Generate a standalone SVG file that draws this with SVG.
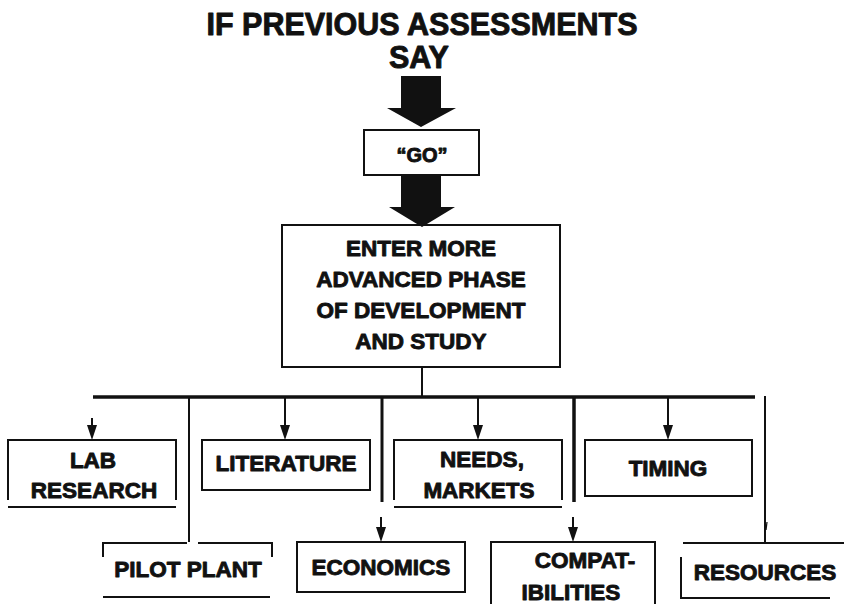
<svg xmlns="http://www.w3.org/2000/svg" width="844" height="604" viewBox="0 0 844 604">
<style>
text{font-family:"Liberation Sans",Arial,sans-serif;font-weight:bold;fill:#111;stroke:#111;stroke-width:0.9;stroke-linejoin:round;text-anchor:middle}
.t{font-size:30.5px}
.m{font-size:22.5px}
.s{font-size:22.5px}
.g{font-size:20px}
.b{fill:none;stroke:#111;stroke-width:2}
.c{fill:none;stroke:#111;stroke-width:2}
.bar{fill:none;stroke:#111;stroke-width:3.5}
.big{fill:#111;stroke:none}
.ah{fill:#111;stroke:none}
</style>
<defs>
<path id="head" d="M-5,-15 L5,-15 L0,0 Z"/>
</defs>
<g id="title">
<text class="t" x="422" y="35">IF PREVIOUS ASSESSMENTS</text>
<text class="t" x="419" y="68">SAY</text>
</g>
<g id="go">
<rect class="b" x="364" y="130" width="115" height="45"/>
<text class="g" x="422" y="162">“GO”</text>
</g>
<g id="main">
<rect class="b" x="282" y="225" width="278" height="142"/>
<text class="m" x="421" y="256">ENTER MORE</text>
<text class="m" x="421" y="287">ADVANCED PHASE</text>
<text class="m" x="421" y="318">OF DEVELOPMENT</text>
<text class="m" x="421" y="349">AND STUDY</text>
</g>
<g id="lab">
<path class="b" d="M8,500 V440 H176 V500 M8,507 H176"/>
<text class="s" x="93" y="468">LAB</text>
<text class="s" x="94" y="498">RESEARCH</text>
</g>
<g id="literature">
<rect class="b" x="202" y="440" width="168" height="50"/>
<text class="s" x="286" y="471">LITERATURE</text>
</g>
<g id="needs">
<path class="b" d="M394,500 V440 H562 V500 M394,507 H562"/>
<text class="s" x="482" y="467">NEEDS,</text>
<text class="s" x="479" y="498">MARKETS</text>
</g>
<g id="timing">
<rect class="b" x="585" y="440" width="167" height="56"/>
<text class="s" x="668" y="476">TIMING</text>
</g>
<g id="pilot">
<path class="b" d="M103,557 V543 H187 M198,543 H272 V557 M103,597 H270"/>
<text class="s" x="188" y="577">PILOT PLANT</text>
</g>
<g id="economics">
<rect class="b" x="297" y="542" width="168" height="50"/>
<text class="s" x="381" y="575">ECONOMICS</text>
</g>
<g id="compat">
<path class="b" d="M491,604 V542 H655 V604"/>
<text class="s" x="585" y="568">COMPAT-</text>
<text class="s" x="571" y="600">IBILITIES</text>
</g>
<g id="resources">
<path class="b" d="M683,543 H844 M681,557 V598 H830"/>
<text class="s" x="765" y="580">RESOURCES</text>
</g>
<g id="connectors">
<path class="big" d="M401,76 H441 V108 H456 L421,127 L387,108 H401 Z"/>
<path class="big" d="M401,175 H441 V207 H455 L422,227 L389,207 H401 Z"/>
<path class="c" d="M422,367 V397"/>
<path class="bar" d="M93,397 H755"/>
<path class="c" d="M92,418 V430"/>
<use href="#head" class="ah" x="92" y="440"/>
<path class="c" d="M189,397 V542"/>
<path class="c" d="M285,397 V430"/>
<use href="#head" class="ah" x="285" y="440"/>
<path class="c" d="M382,397 V502" style="stroke-width:3"/>
<path class="c" d="M381,517 V532"/>
<use href="#head" class="ah" x="381" y="542"/>
<path class="c" d="M478,397 V430"/>
<use href="#head" class="ah" x="478" y="440"/>
<path class="c" d="M574,397 V502" style="stroke-width:3.5"/>
<path class="c" d="M573,517 V532"/>
<use href="#head" class="ah" x="573" y="542"/>
<path class="c" d="M668,397 V430"/>
<use href="#head" class="ah" x="668" y="440"/>
<path class="c" d="M765,396 V542"/>
<path class="c" d="M767,522 L766,530" style="stroke-width:1.2"/>
</g>
</svg>
